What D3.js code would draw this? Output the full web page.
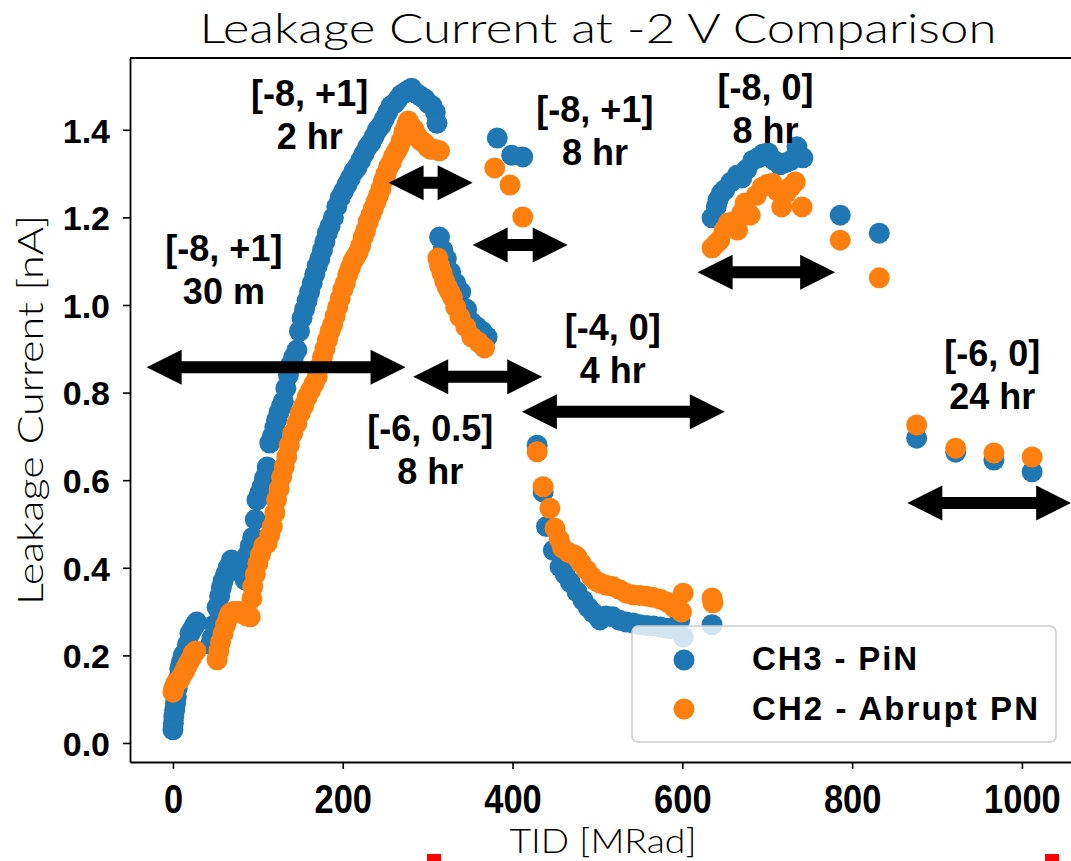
<!DOCTYPE html>
<html><head><meta charset="utf-8">
<script src="https://cdn.jsdelivr.net/npm/d3@7"></script>
<style>body{margin:0;background:#fff;overflow:hidden}</style>
</head><body><svg id="c" width="1071" height="861"></svg>
<script>
// CH3 - PiN (blue)  [TID MRad, leakage nA]
const ch3 = [
 [0,0.03],[0.5,0.045],[1,0.06],[2,0.075],[3,0.09],[4,0.105],[5,0.125],[6,0.145],[8,0.17],[10,0.185],[12,0.2],[14,0.205],[17,0.225],[20,0.25],[23,0.26],[26,0.27],[28,0.276],
 [44,0.225],[46,0.24],[49,0.27],[52,0.31],[55,0.335],[57,0.355],[59,0.37],[62,0.385],[65,0.4],[69,0.418],[72,0.41],[76,0.4],[79,0.395],[82,0.385],[85,0.372],[88,0.43],[91,0.45],[94,0.47],[97,0.51],[99,0.555],[102,0.57],[105,0.585],[108,0.605],[111,0.63],[114,0.685],[117,0.7],[120,0.72],[122,0.737],[125,0.755],[128,0.77],[130,0.78],[133,0.81],[136,0.84],[139,0.865],[142,0.88],[146,0.897],
 [149,0.94],[152,0.97],[155,0.99],[158,1.01],[161,1.03],[164,1.05],[167,1.07],[170,1.09],[173,1.105],[176,1.125],[179,1.145],[182,1.165],[185,1.18],[189,1.2],[193,1.225],[197,1.245],[201,1.26],[205,1.275],[209,1.29],[213,1.305],[217,1.315],[221,1.33],[225,1.345],[229,1.36],[233,1.37],[237,1.385],[241,1.4],[245,1.41],[249,1.425],[253,1.44],[257,1.455],[261,1.46],[265,1.47],[269,1.48],[273,1.485],[277,1.49],[281,1.495],[285,1.485],[289,1.48],[293,1.475],[297,1.47],[301,1.46],[305,1.455],[309,1.44],[311,1.415],
 [314,1.155],[318,1.125],[322,1.105],[327,1.075],[333,1.05],[339,1.03],[346,0.99],[352,0.96],[358,0.95],[364,0.94],[370,0.927],
 [382,1.381],[399,1.342],[412,1.338],
 [429,0.68],[436,0.573],[440,0.494],[448,0.44],[456,0.402],[462,0.385],[468,0.367],[476,0.345],[483,0.326],[489,0.31],[495,0.297],[503,0.281],[510,0.29],[518,0.288],[526,0.28],[534,0.276],[542,0.274],[550,0.27],[558,0.268],[566,0.267],[574,0.265],[582,0.262],[590,0.26],[597,0.281],[601,0.242],[635,0.27],
 [635,1.199],[640,1.225],[642,1.24],[646,1.255],[650,1.263],[657,1.28],[665,1.297],[670,1.29],[676,1.31],[683,1.33],[689,1.336],[695,1.345],[701,1.347],[708,1.33],[715,1.32],[722,1.325],[728,1.33],[735,1.361],[742,1.336],[786,1.205],[832,1.164],
 [876,0.696],[922,0.664],[967,0.646],[1012,0.619]
];
// CH2 - Abrupt PN (orange)
const ch2 = [
 [0,0.116],[1,0.125],[3,0.135],[5,0.14],[8,0.144],[11,0.155],[14,0.165],[16,0.174],[19,0.185],[22,0.195],[24,0.205],[27,0.21],
 [52,0.19],[54,0.21],[56,0.23],[59,0.25],[62,0.27],[65,0.285],[67,0.296],[71,0.3],[75,0.3],[79,0.3],[83,0.295],[87,0.29],[91,0.288],[93,0.33],[94,0.357],[97,0.385],[100,0.41],[103,0.43],[107,0.45],[111,0.456],[114,0.475],[117,0.494],[120,0.525],[122,0.555],[125,0.58],[128,0.607],[131,0.63],[134,0.653],[137,0.68],[141,0.707],[146,0.73],[150,0.753],
 [154,0.77],[158,0.79],[162,0.805],[166,0.82],[170,0.836],[173,0.86],[176,0.88],[179,0.9],[182,0.92],[185,0.94],[188,0.955],[191,0.975],[194,0.995],[197,1.015],[200,1.035],[203,1.05],[206,1.07],[209,1.085],[212,1.1],[215,1.11],[218,1.12],[221,1.135],[224,1.155],[227,1.17],[230,1.19],[233,1.205],[236,1.22],[239,1.235],[242,1.25],[245,1.265],[248,1.285],[251,1.3],[254,1.315],[257,1.325],[260,1.34],[263,1.35],[266,1.36],[269,1.375],[272,1.395],[275,1.41],[277,1.42],[280,1.41],[284,1.4],[288,1.385],[292,1.375],[296,1.37],[300,1.36],[304,1.355],[309,1.355],[314,1.352],
 [312,1.107],[314,1.09],[317,1.073],[320,1.055],[323,1.041],[326,1.03],[329,1.018],[333,0.995],[338,0.973],[345,0.95],[352,0.927],[360,0.915],[367,0.902],
 [379,1.313],[397,1.274],[412,1.201],
 [429,0.665],[436,0.585],[444,0.536],[450,0.49],[455,0.465],[459,0.445],[466,0.435],[472,0.43],[476,0.425],[481,0.41],[487,0.395],[493,0.38],[498,0.37],[503,0.365],[510,0.36],[518,0.357],[526,0.35],[534,0.342],[542,0.338],[550,0.337],[558,0.335],[565,0.333],[574,0.328],[582,0.322],[590,0.31],[599,0.299],[601,0.342],[635,0.331],[636,0.32],
 [635,1.13],[640,1.14],[644,1.148],[649,1.17],[654,1.187],[660,1.19],[665,1.171],[670,1.21],[674,1.233],[680,1.205],[687,1.25],[694,1.269],[700,1.275],[706,1.278],[712,1.26],[717,1.224],[722,1.255],[728,1.27],[733,1.281],[741,1.224],[786,1.148],[832,1.062],
 [876,0.726],[922,0.673],[967,0.662],[1012,0.653]
];
const xTicks = [0,200,400,600,800,1000];
const yTicks = [0,0.2,0.4,0.6,0.8,1.0,1.2,1.4];
const seriesNames = ["CH3 - PiN","CH2 - Abrupt PN"];
const seriesColors = ["#1f77b4","#ff7f0e"];
// annealing step labels: [centre TID, centre nA, line1, line2]
const annLabels = [
 [60,1.087,"[-8, +1]","30 m"],
 [161,1.441,"[-8, +1]","2 hr"],
 [497,1.404,"[-8, +1]","8 hr"],
 [303,0.676,"[-6, 0.5]","8 hr"],
 [518,0.906,"[-4, 0]","4 hr"],
 [698,1.454,"[-8, 0]","8 hr"],
 [965,0.847,"[-6, 0]","24 hr"]
];
// double arrows: [from TID, to TID, at nA]
const arrows = [
 [-31,274,0.858],[254,353,1.279],[353,465,1.137],[283,435,0.836],[411,650,0.756],[618,780,1.075],[865,1058,0.548]
];

const svg = d3.select("#c");
const x = d3.scaleLinear().domain([-50.6, 1071]).range([130, 1082.2]);
const y = d3.scaleLinear().domain([-0.0434, 1.5639]).range([762, 58]);
const boldF = "'Liberation Sans', Arial, sans-serif";
const lightF = "Lato, 'DejaVu Sans', sans-serif";

// title
svg.append("text").attr("x",598).attr("y",43).attr("text-anchor","middle")
 .attr("font-family",lightF).attr("font-weight",300).attr("font-size",41)
 .attr("textLength",797).attr("lengthAdjust","spacingAndGlyphs")
 .text("Leakage Current at -2 V Comparison");

// scatter
const g = svg.append("g");
[ch3, ch2].forEach((s,i)=>{
  g.append("g").selectAll("circle").data(s).join("circle")
   .attr("cx",d=>x(d[0])).attr("cy",d=>y(d[1])).attr("r",10.5)
   .attr("fill",seriesColors[i]);
});

// axes
const xa = svg.append("g").attr("transform","translate(0,762)")
 .call(d3.axisBottom(x).tickValues(xTicks).tickFormat(d3.format("d")).tickSize(7).tickSizeOuter(0).tickPadding(10));
xa.selectAll("text").attr("font-family",boldF).attr("font-weight","bold").attr("font-size",41)
 .attr("fill","#000").attr("dy",null).attr("y",51).attr("transform","scale(0.84,1)");
const ya = svg.append("g").attr("transform","translate(130,0)")
 .call(d3.axisLeft(y).tickValues(yTicks).tickFormat(d3.format(".1f")).tickSize(7).tickSizeOuter(0).tickPadding(13));
ya.selectAll("text").attr("font-family",boldF).attr("font-weight","bold").attr("font-size",34).attr("fill","#000").attr("dy","0.36em");
[xa,ya].forEach(a=>{a.selectAll("line").attr("stroke","#000").attr("stroke-width",1.6);
 a.select(".domain").attr("stroke","#000").attr("stroke-width",1.8);});
svg.append("line").attr("x1",130).attr("x2",1071).attr("y1",58).attr("y2",58).attr("stroke","#000").attr("stroke-width",1.8);

// axis labels
svg.append("text").attr("x",603).attr("y",853).attr("text-anchor","middle")
 .attr("font-family",lightF).attr("font-weight",300).attr("font-size",33)
 .attr("textLength",187).attr("lengthAdjust","spacingAndGlyphs").text("TID [MRad]");
svg.append("text").attr("transform","translate(43,410) rotate(-90)").attr("text-anchor","middle")
 .attr("font-family",lightF).attr("font-weight",300).attr("font-size",36)
 .attr("textLength",390).attr("lengthAdjust","spacingAndGlyphs").text("Leakage Current [nA]");

// arrows
const HL = 35, HW = 17.5, SW = 6;
arrows.forEach(a=>{
  const x1=x(a[0]), x2=x(a[1]), yy=y(a[2]);
  const p = [[x1,yy],[x1+HL,yy-HW],[x1+HL,yy-SW],[x2-HL,yy-SW],[x2-HL,yy-HW],[x2,yy],[x2-HL,yy+HW],[x2-HL,yy+SW],[x1+HL,yy+SW],[x1+HL,yy+HW]];
  svg.append("path").attr("d","M"+p.map(q=>q.join(",")).join("L")+"Z").attr("fill","#000");
});

// annotation labels
annLabels.forEach(l=>{
  const t = svg.append("text").attr("x",x(l[0])).attr("y",y(l[1])).attr("text-anchor","middle")
   .attr("font-family",boldF).attr("font-weight","bold").attr("font-size",36).attr("fill","#000");
  t.append("tspan").attr("x",x(l[0])).attr("dy",-6).text(l[2]);
  t.append("tspan").attr("x",x(l[0])).attr("dy",43).text(l[3]);
});

// legend
const lg = svg.append("g");
lg.append("rect").attr("x",632).attr("y",626).attr("width",424).attr("height",116).attr("rx",6)
 .attr("fill","#fff").attr("fill-opacity",0.8).attr("stroke","#cccccc").attr("stroke-width",1.5);
seriesNames.forEach((n,i)=>{
  lg.append("circle").attr("cx",684).attr("cy",660+49*i).attr("r",10.5).attr("fill",seriesColors[i]);
  lg.append("text").attr("x",752).attr("y",670+50*i).attr("font-family",boldF).attr("font-weight","bold")
   .attr("font-size",33).attr("textLength",i?286:165).attr("lengthAdjust","spacing").text(n);
});

// small red marks at bottom edge
[[427,441],[1045,1059]].forEach(r=>svg.append("rect").attr("x",r[0]).attr("y",854).attr("width",r[1]-r[0]).attr("height",7).attr("fill","#ff0000"));
</script></body></html>
